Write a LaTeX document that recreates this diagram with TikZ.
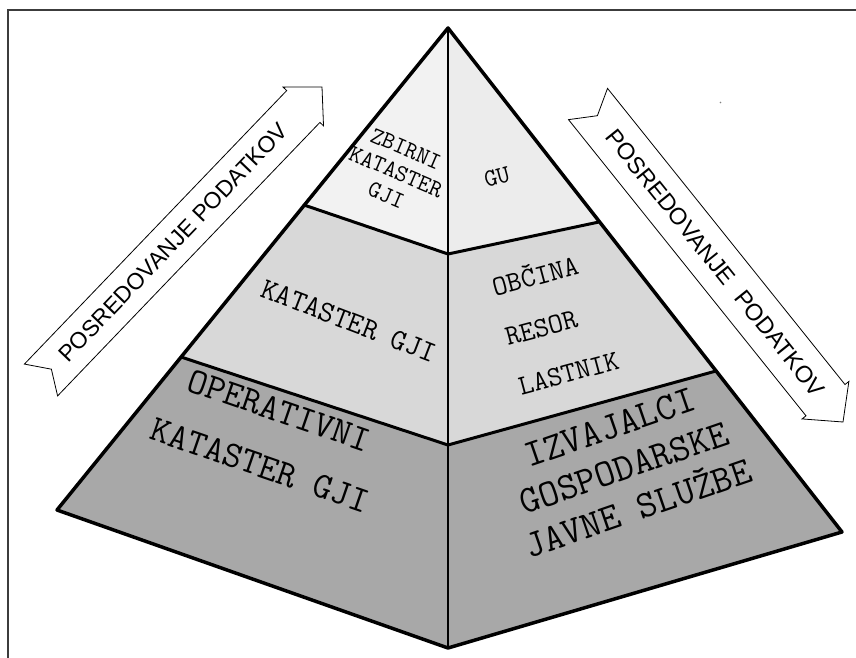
\documentclass[tikz,border=0pt]{standalone}
\usepackage{fontspec}
\setmainfont{Liberation Sans}
\usetikzlibrary{calc}
\definecolor{frameline}{HTML}{3C3C3C}
\definecolor{tiertop}{HTML}{F2F2F2}
\definecolor{tiertopr}{HTML}{ECECEC}
\definecolor{tiermid}{HTML}{D8D8D8}
\definecolor{tierbase}{HTML}{A8A8A8}
\newcommand{\tierfont}[2]{\ttfamily\addfontfeature{FakeBold=0.6}\fontsize{#1}{#2}\selectfont}
\begin{document}
\begin{tikzpicture}[x=1pt,y=-1pt,
  rim/.style={line width=3.5pt, line join=round},
  tierline/.style={line width=3pt, line join=round, line cap=round},
  ridge/.style={line width=2pt},
  flowarrow/.style={draw=black, line width=0.8pt, fill=white, line join=miter},
  flowtext/.style={font=\fontsize{23}{26}\selectfont, inner sep=0pt},
  lvl/.style={inner sep=0pt, align=center}
]
\useasboundingbox (0,0) rectangle (856,658);
\fill[white] (0,0) rectangle (856,658);

% page frame (left and top rules)
\draw[frameline, line width=2pt] (8,662) -- (8,10) -- (860,10);

% pyramid corners
\coordinate (apex) at (448,28);
\coordinate (tl) at (304,205);
\coordinate (tf) at (448,254);
\coordinate (tr) at (599,222);
\coordinate (ml) at (181,357);
\coordinate (mf) at (448,445);
\coordinate (mr) at (716,371);
\coordinate (bl) at (57,510);
\coordinate (bf) at (448,648);
\coordinate (br) at (842,532);

% faces
\fill[tiertop]  (apex) -- (tl) -- (tf) -- cycle;
\fill[tiertopr] (apex) -- (tf) -- (tr) -- cycle;
\fill[tiermid]  (tl) -- (ml) -- (mf) -- (tf) -- cycle;
\fill[tiermid]  (tf) -- (mf) -- (mr) -- (tr) -- cycle;
\fill[tierbase] (ml) -- (bl) -- (bf) -- (mf) -- cycle;
\fill[tierbase] (mf) -- (bf) -- (br) -- (mr) -- cycle;

% edges
\draw[tierline] (tl) -- (tf) -- (tr);
\draw[tierline] (ml) -- (mf) -- (mr);
\draw[ridge] (apex) -- (bf);
\draw[rim] (apex) -- (bl) -- (bf) -- (br) -- cycle;

% tier labels
\node[lvl, rotate=-23, font=\tierfont{24}{25}] (zbirni) at (396,172) {ZBIRNI\\KATASTER\\GJI};
\node[lvl, rotate=15, font=\tierfont{25}{26}] (gu) at (497,177) {GU};
\node[lvl, rotate=-21, font=\tierfont{30}{30}] (kataster) at (349,321) {KATASTER GJI};
\node[inner sep=0pt, align=left, rotate=15, font=\tierfont{28.5}{51}] (obcina) at (555,322) {OBČINA\\RESOR\\LASTNIK};
\node[lvl, rotate=-19, font=\tierfont{37}{58}] (operativni) at (270,438) {OPERATIVNI\\KATASTER GJI};
\node[lvl, rotate=19, font=\tierfont{38.5}{43}] (izvajalci) at (624,468) {IZVAJALCI\\GOSPODARSKE\\JAVNE SLUŽBE};

% upward flow arrow (left)
\coordinate (la-tail) at (41,380);
\coordinate (la-tip) at (322,87);
\coordinate (la-notch) at ($(la-tail)!15pt!(la-tip)$);
\coordinate (la-h) at ($(la-tip)!27pt!(la-tail)$);
\coordinate (la-t1) at ($(la-tail)!23pt!90:(la-tip)$);
\coordinate (la-t2) at ($(la-tail)!23pt!-90:(la-tip)$);
\coordinate (la-s1) at ($(la-h)!23pt!-90:(la-tip)$);
\coordinate (la-s2) at ($(la-h)!23pt!90:(la-tip)$);
\coordinate (la-b1) at ($(la-h)!28pt!-90:(la-tip)$);
\coordinate (la-b2) at ($(la-h)!28pt!90:(la-tip)$);
\draw[flowarrow] (la-t1) -- (la-s2) -- (la-b2) -- (la-tip) -- (la-b1) -- (la-s1) -- (la-t2) -- (la-notch) -- cycle;
\node[flowtext, rotate=46.2] (la-label) at ($(la-tail)!0.47!(la-tip)$) {POSREDOVANJE PODATKOV};

% downward flow arrow (right)
\coordinate (ra-tail) at (588,104);
\coordinate (ra-tip) at (843,422);
\coordinate (ra-notch) at ($(ra-tail)!15pt!(ra-tip)$);
\coordinate (ra-h) at ($(ra-tip)!28pt!(ra-tail)$);
\coordinate (ra-t1) at ($(ra-tail)!25pt!90:(ra-tip)$);
\coordinate (ra-t2) at ($(ra-tail)!25pt!-90:(ra-tip)$);
\coordinate (ra-s1) at ($(ra-h)!25pt!-90:(ra-tip)$);
\coordinate (ra-s2) at ($(ra-h)!25pt!90:(ra-tip)$);
\coordinate (ra-b1) at ($(ra-h)!30pt!-90:(ra-tip)$);
\coordinate (ra-b2) at ($(ra-h)!30pt!90:(ra-tip)$);
\draw[flowarrow] (ra-t1) -- (ra-s2) -- (ra-b2) -- (ra-tip) -- (ra-b1) -- (ra-s1) -- (ra-t2) -- (ra-notch) -- cycle;
\node[flowtext, rotate=-51.3, font=\fontsize{23.5}{26}\selectfont] (ra-label) at ($(ra-tail)!0.5!(ra-tip)$) {POSREDOVANJE\hspace{0.6em}PODATKOV};

% small speck
\fill[gray] (720.5,102.5) circle (0.9pt);
\end{tikzpicture}
\end{document}
